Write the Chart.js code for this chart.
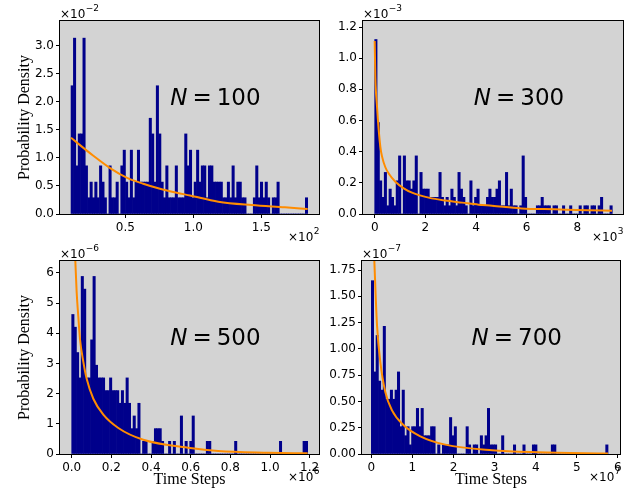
<!DOCTYPE html>
<html>
<head>
<meta charset="utf-8">
<script src="https://cdn.jsdelivr.net/npm/chart.js@4/dist/chart.umd.min.js"></script>
<style>
  html, body { margin: 0; padding: 0; background: #fff; }
  #wrap { position: relative; width: 636px; height: 490px; }
  canvas { position: absolute; left: 0; top: 0; }
</style>
</head>
<body>
<div id="wrap">
  <canvas id="g1" width="636" height="490"></canvas>
  <canvas id="g2" width="636" height="490"></canvas>
  <canvas id="g3" width="636" height="490"></canvas>
  <canvas id="g4" width="636" height="490"></canvas>
</div>
<script>
// N = 100 : x in units of 1e2, density in units of 1e-2
const p1BinStart = 0.101, p1BinWidth = 0.0174;
const p1Density = [
  2.29,3.14,0.86,1.43,1.43,3.14,0.86,0.29,0.57,0.29,
  0.57,0.29,0.86,0.57,0.29,0,0.86,0.29,0.29,0.57,
  0,0.86,1.14,0.57,0.29,1.14,0.29,0.57,1.14,0.57,
  0.57,0.57,0.57,1.71,1.43,0.57,2.29,1.43,0.57,0.29,
  0.86,0.29,0.29,0.29,0.86,0.29,0.29,0.29,1.43,0.86,
  1.14,0.29,0.57,1.14,0.57,0.86,0.86,0.29,0.86,0.86,
  0.57,0.57,0.57,0.57,0.29,0.29,0.57,0.29,0.86,0.29,
  0.57,0.57,0.29,0.29,0,0,0,0.29,0.86,0.29,
  0.57,0.29,0.57,0.29,0,0.29,0.29,0.57,0,0,
  0,0,0,0,0,0,0,0,0,0.29];
const p1CurveX = [0.101,0.265,0.388,0.51,0.632,0.755,0.878,0.976,1.184,1.429,1.674,1.841];
const p1CurveY = [1.36,1.04,0.82,0.65,0.54,0.45,0.38,0.33,0.22,0.16,0.12,0.09];
const p1XTicks = [0.5, 1.0, 1.5];
const p1YTicks = [0, 0.5, 1.0, 1.5, 2.0, 2.5, 3.0];

// N = 300 : x in units of 1e3, density in units of 1e-3
const p2BinStart = 0, p2BinWidth = 0.0938;
const p2Density = [
  1.12,0.587,0.213,0.107,0.267,0.053,0.16,0.107,0.053,0.213,
  0.373,0,0.373,0.213,0.213,0.16,0.213,0.373,0,0.267,
  0.16,0.16,0.16,0.107,0.107,0.107,0.107,0.267,0.107,0.053,
  0.107,0.053,0.16,0.107,0.053,0.267,0.16,0.107,0.053,0,
  0.213,0.053,0.107,0.16,0.053,0.053,0.053,0.107,0.16,0.107,
  0.107,0.16,0.213,0.053,0.053,0.267,0.053,0.16,0.053,0.053,
  0,0.053,0.373,0.107,0,0,0,0,0.053,0.053,
  0.107,0.053,0.053,0.053,0,0.053,0.053,0,0,0.053,
  0,0,0.053,0,0,0,0.053,0,0.053,0.053,
  0,0.053,0.053,0,0.053,0.107,0,0,0,0.053];
const p2CurveX = [0,0.026,0.091,0.158,0.224,0.289,0.42,0.553,0.816,1.145,1.474,2.13,2.79,3.45,4.1,4.63,5.79,7.11,8.42,9.37];
const p2CurveY = [1.11,0.88,0.69,0.54,0.43,0.37,0.30,0.26,0.207,0.165,0.137,0.105,0.086,0.073,0.06,0.053,0.036,0.03,0.024,0.021];
const p2XTicks = [0, 2, 4, 6, 8];
const p2YTicks = [0, 0.2, 0.4, 0.6, 0.8, 1.0, 1.2];

// N = 500 : x in units of 1e6, density in units of 1e-6
const p3BinStart = 0, p3BinWidth = 0.0119;
const p3Density = [
  4.62,4.2,3.36,2.52,5.88,5.46,2.52,2.52,3.78,5.88,
  2.94,2.52,2.52,2.52,2.1,2.1,2.52,2.1,2.1,2.1,
  1.68,2.1,1.68,2.52,1.68,0.84,1.26,0.84,1.68,0,
  0.42,0.42,0,0,0.42,0.84,0.84,0.84,0.42,0,
  0,0.42,0,0.42,0,0,1.26,0,0.42,0,
  0.42,1.26,0,0,0,0,0,0.42,0.42,0,
  0,0,0,0,0,0,0,0,0,0.42,
  0,0,0,0,0,0,0,0,0,0,
  0,0,0,0,0,0,0,0,0.42,0,
  0,0,0,0,0,0,0,0,0.42,0.42];
const p3CurveX = [0.0183,0.025,0.0334,0.0419,0.0587,0.0755,0.109,0.1595,0.235,0.361,0.597,0.739,0.991,1.19];
const p3CurveY = [6.39,5.36,4.54,3.80,3.05,2.49,1.83,1.30,0.86,0.47,0.20,0.10,0.044,0.022];
const p3XTicks = [0, 0.2, 0.4, 0.6, 0.8, 1.0, 1.2];
const p3YTicks = [0, 1, 2, 3, 4, 5, 6];

// N = 700 : x in units of 1e7, density in units of 1e-7
const p4BinStart = 0, p4BinWidth = 0.0576;
const p4Density = [
  1.649,0.781,1.128,0.694,0.608,1.215,0.521,0.521,0.608,0.521,
  0.608,0.781,0.26,0.608,0.174,0.26,0.087,0.26,0.26,0.434,
  0.26,0.434,0.174,0.174,0.174,0.26,0.26,0,0.087,0,
  0.087,0.087,0.087,0.347,0.174,0.26,0,0,0,0,
  0.26,0.087,0,0.087,0.087,0,0.174,0.087,0.174,0.434,
  0.087,0.087,0.087,0,0,0.174,0,0,0,0,
  0.087,0,0,0,0.087,0,0,0,0.087,0.087,
  0,0,0,0,0,0,0.087,0.087,0,0,
  0,0,0,0,0,0,0,0,0,0,
  0,0,0,0,0,0,0,0,0,0.087];
const p4CurveX = [0.074,0.106,0.139,0.22,0.341,0.504,0.788,1.193,1.80,2.937,4.056,5.76];
const p4CurveY = [1.836,1.51,1.224,0.875,0.59,0.415,0.273,0.168,0.089,0.035,0.016,0.005];
const p4XTicks = [0, 1, 2, 3, 4, 5, 6];
const p4YTicks = [0, 0.25, 0.5, 0.75, 1.0, 1.25, 1.5, 1.75];

const NAVY = '#00008b';
const ORANGE = '#ff8c00';
const AXES_BG = '#d3d3d3';
const TICK_FONT = '"DejaVu Sans", sans-serif';
const LABEL_FONT = '"Liberation Serif", "Times New Roman", serif';

function powerText(ctx, x, y, exp, align) {
  ctx.font = '12px ' + TICK_FONT;
  const wb = ctx.measureText('×10').width;
  ctx.font = '9px ' + TICK_FONT;
  const we = ctx.measureText(exp).width;
  const x0 = align === 'right' ? x - wb - we : x;
  ctx.textAlign = 'left';
  ctx.textBaseline = 'alphabetic';
  ctx.fillStyle = '#000';
  ctx.font = '12px ' + TICK_FONT;
  ctx.fillText('×10', x0, y);
  ctx.font = '9px ' + TICK_FONT;
  ctx.fillText(exp, x0 + wb + 0.5, y - 7);
}

function drawN(ctx, cx, y, num) {
  const gap = 5;
  ctx.font = 'italic 23px ' + TICK_FONT;
  const wN = ctx.measureText('N').width;
  ctx.font = '23px ' + TICK_FONT;
  const wE = ctx.measureText('=').width;
  const wD = ctx.measureText(num).width;
  let x = cx - (wN + gap + wE + gap + wD) / 2;
  ctx.textAlign = 'left';
  ctx.textBaseline = 'alphabetic';
  ctx.fillStyle = '#000';
  ctx.font = 'italic 23px ' + TICK_FONT;
  ctx.fillText('N', x, y);
  x += wN + gap;
  ctx.font = '23px ' + TICK_FONT;
  ctx.fillText('=', x, y);
  x += wE + gap;
  ctx.fillText(num, x, y);
}

const panelDeco = {
  id: 'panelDeco',
  beforeDraw(chart) {
    const a = chart.chartArea, ctx = chart.ctx;
    ctx.save();
    ctx.fillStyle = AXES_BG;
    ctx.fillRect(a.left, a.top, a.right - a.left, a.bottom - a.top);
    ctx.restore();
  },
  afterDatasetsDraw(chart) {
    const a = chart.chartArea, ctx = chart.ctx;
    ctx.save();
    ctx.strokeStyle = '#000';
    ctx.lineWidth = 1;
    ctx.strokeRect(a.left - 0.5, a.top - 0.5, a.right - a.left + 1, a.bottom - a.top + 1);
    ctx.restore();
  },
  afterDraw(chart, args, o) {
    const a = chart.chartArea, ctx = chart.ctx;
    ctx.save();
    powerText(ctx, a.left, a.top - 3, o.yExp, 'left');
    powerText(ctx, a.right, a.bottom + 27, o.xExp, 'right');
    drawN(ctx, a.left + 0.6 * (a.right - a.left), a.top + 84, o.n);
    ctx.fillStyle = '#000';
    ctx.font = '16px ' + LABEL_FONT;
    if (o.ylabel) {
      ctx.translate(25, (a.top + a.bottom) / 2);
      ctx.rotate(-Math.PI / 2);
      ctx.textAlign = 'center';
      ctx.textBaseline = 'middle';
      ctx.fillText(o.ylabel, 0, 0);
      ctx.setTransform(1, 0, 0, 1, 0, 0);
    }
    if (o.xlabel) {
      ctx.textAlign = 'center';
      ctx.textBaseline = 'alphabetic';
      ctx.fillText(o.xlabel, (a.left + a.right) / 2, a.bottom + 30);
    }
    ctx.restore();
  }
};

function panel(id, p) {
  const bars = p.values.map((v, i) => ({ x: p.start + (i + 0.5) * p.width, y: v }));
  const curve = p.curveX.map((x, i) => ({ x: x, y: p.curveY[i] }));
  const axisCommon = {
    type: 'linear',
    offset: false,
    border: { display: false },
    grid: { drawOnChartArea: false, drawTicks: true, tickLength: 4, color: '#000', tickColor: '#000', offset: false }
  };
  new Chart(document.getElementById(id), {
    type: 'bar',
    data: {
      datasets: [
        { type: 'line', data: curve, borderColor: ORANGE, borderWidth: 2, pointRadius: 0,
          cubicInterpolationMode: 'monotone', clip: 0, order: 0 },
        { type: 'bar', data: bars, backgroundColor: NAVY, borderWidth: 0,
          barPercentage: 1, categoryPercentage: 1, order: 1 }
      ]
    },
    options: {
      responsive: false,
      animation: false,
      devicePixelRatio: 1,
      layout: { padding: { left: p.area.l - 44, top: p.area.t, right: 636 - p.area.r, bottom: 490 - p.area.b - 30 } },
      plugins: {
        legend: { display: false },
        tooltip: { enabled: false },
        panelDeco: { yExp: p.yExp, xExp: p.xExp, n: p.n, ylabel: p.ylabel, xlabel: p.xlabel }
      },
      scales: {
        x: Object.assign({}, axisCommon, {
          min: p.xMin, max: p.xMax,
          ticks: { color: '#000', padding: 3, font: { family: TICK_FONT, size: 12 }, maxRotation: 0,
                   callback: v => v.toFixed(p.xDec) },
          afterBuildTicks: s => { s.ticks = p.xTicks.map(v => ({ value: v })); },
          afterFit: s => { s.height = 30; }
        }),
        y: Object.assign({}, axisCommon, {
          min: 0, max: p.yMax,
          ticks: { color: '#000', padding: 2, font: { family: TICK_FONT, size: 12 },
                   callback: v => v.toFixed(p.yDec) },
          afterBuildTicks: s => { s.ticks = p.yTicks.map(v => ({ value: v })); },
          afterFit: s => { s.width = 44; }
        })
      }
    },
    plugins: [panelDeco]
  });
}

panel('g1', { area: { l: 60, t: 21, r: 319, b: 214 }, xMin: 0.0199, xMax: 1.9243, yMax: 3.446,
  start: p1BinStart, width: p1BinWidth, values: p1Density, curveX: p1CurveX, curveY: p1CurveY,
  xTicks: p1XTicks, yTicks: p1YTicks, xDec: 1, yDec: 1, xExp: '2', yExp: '\u22122', n: '100',
  ylabel: 'Probability Density' });
panel('g2', { area: { l: 363, t: 21, r: 623, b: 214 }, xMin: -0.462, xMax: 9.803, yMax: 1.2388,
  start: p2BinStart, width: p2BinWidth, values: p2Density, curveX: p2CurveX, curveY: p2CurveY,
  xTicks: p2XTicks, yTicks: p2YTicks, xDec: 0, yDec: 1, xExp: '3', yExp: '\u22123', n: '300' });
panel('g3', { area: { l: 60, t: 261, r: 319, b: 454 }, xMin: -0.059, xMax: 1.2471, yMax: 6.391,
  start: p3BinStart, width: p3BinWidth, values: p3Density, curveX: p3CurveX, curveY: p3CurveY,
  xTicks: p3XTicks, yTicks: p3YTicks, xDec: 1, yDec: 0, xExp: '6', yExp: '\u22126', n: '500',
  ylabel: 'Probability Density', xlabel: 'Time Steps' });
panel('g4', { area: { l: 362, t: 261, r: 620, b: 454 }, xMin: -0.2263, xMax: 6.051, yMax: 1.8363,
  start: p4BinStart, width: p4BinWidth, values: p4Density, curveX: p4CurveX, curveY: p4CurveY,
  xTicks: p4XTicks, yTicks: p4YTicks, xDec: 0, yDec: 2, xExp: '7', yExp: '\u22127', n: '700',
  xlabel: 'Time Steps' });
</script>
</body>
</html>
